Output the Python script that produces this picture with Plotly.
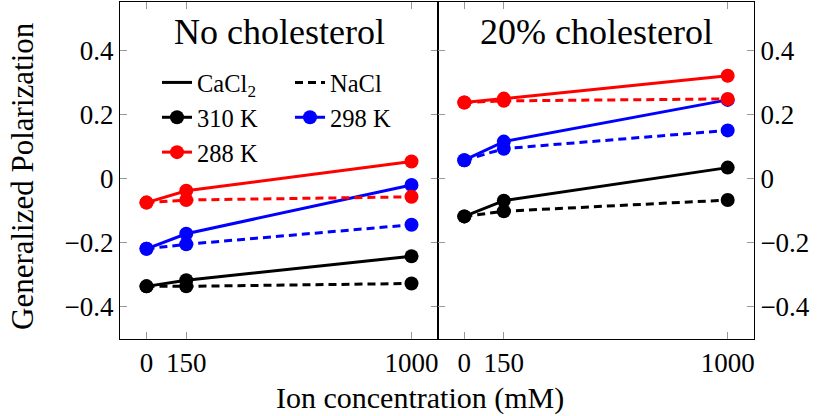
import plotly.graph_objects as go

conc = [0, 150, 1000]
panels = ["No cholesterol", "20% cholesterol"]
temps = ["310 K", "298 K", "288 K"]
colors = {"310 K": "black", "298 K": "blue", "288 K": "red"}

# Generalized polarization values [panel][salt][temp]
gp = {
    "No cholesterol": {
        "CaCl2": {"310 K": [-0.336, -0.317, -0.242],
                  "298 K": [-0.219, -0.172, -0.020],
                  "288 K": [-0.075, -0.038, 0.053]},
        "NaCl": {"310 K": [-0.336, -0.336, -0.327],
                 "298 K": [-0.219, -0.205, -0.144],
                 "288 K": [-0.075, -0.067, -0.057]},
    },
    "20% cholesterol": {
        "CaCl2": {"310 K": [-0.118, -0.069, 0.034],
                  "298 K": [0.057, 0.115, 0.245],
                  "288 K": [0.237, 0.249, 0.320]},
        "NaCl": {"310 K": [-0.118, -0.102, -0.067],
                 "298 K": [0.057, 0.093, 0.150],
                 "288 K": [0.237, 0.242, 0.248]},
    },
}

yticks = [-0.4, -0.2, 0, 0.2, 0.4]
yticktext = ["\u22120.4", "\u22120.2", "0", "0.2", "0.4"]

FONT = "Liberation Serif"
W, H = 827, 416
DASH = "8px,5px"

fig = go.Figure()
for pi, panel in enumerate(panels):
    xa = "x" if pi == 0 else "x2"
    ya = "y" if pi == 0 else "y2"
    for t in temps:
        for salt in ["CaCl2", "NaCl"]:
            fig.add_trace(go.Scatter(
                x=conc, y=gp[panel][salt][t], xaxis=xa, yaxis=ya,
                mode="lines+markers", showlegend=False,
                line=dict(color=colors[t], width=3,
                          dash="solid" if salt == "CaCl2" else DASH),
                marker=dict(color=colors[t], size=14),
                cliponaxis=False,
            ))

# legend entries
def leg(name, color, dash, marker, legend):
    fig.add_trace(go.Scatter(
        x=[None], y=[None], name=name, legend=legend,
        mode="lines+markers" if marker else "lines",
        line=dict(color=color, width=3, dash=dash),
        marker=dict(color=color, size=14),
    ))

leg("CaCl<sub>2</sub>", "black", "solid", False, "legend")
leg("310 K", "black", "solid", True, "legend")
leg("288 K", "red", "solid", True, "legend")
leg("NaCl", "black", DASH, False, "legend2")
leg("298 K", "blue", "solid", True, "legend2")

x0, xm, x1 = 120 / W, 438 / W, 754 / W
ydom = [(H - 339) / H, (H - 2) / H]

axcommon = dict(
    showgrid=False, zeroline=False, showline=True, linecolor="black",
    linewidth=1, mirror="ticks", ticks="inside", tickcolor="#999999",
    ticklen=7, tickwidth=1, automargin=False,
    tickfont=dict(family=FONT, size=27, color="black"),
)

fig.update_layout(
    width=W, height=H, margin=dict(l=0, r=0, t=0, b=0),
    plot_bgcolor="white", paper_bgcolor="white",
    font=dict(family=FONT, color="black"),
    xaxis=dict(domain=[x0, xm], range=[-100, 1100], tickvals=conc,
               anchor="y", **axcommon),
    xaxis2=dict(domain=[xm, x1], range=[-100, 1100], tickvals=conc,
                anchor="y2", **axcommon),
    yaxis=dict(domain=ydom, range=[-0.5, 0.55], tickvals=yticks,
               ticktext=yticktext, anchor="x", **axcommon),
    yaxis2=dict(domain=ydom, range=[-0.5, 0.55], tickvals=yticks,
                ticktext=yticktext, anchor="x2", side="right", **axcommon),
    legend=dict(x=157 / W, y=(H - 60) / H, xanchor="left", yanchor="top",
                bgcolor="rgba(0,0,0,0)", font=dict(family=FONT, size=24.5),
                tracegroupgap=0),
    legend2=dict(x=290 / W, y=(H - 60) / H, xanchor="left", yanchor="top",
                 bgcolor="rgba(0,0,0,0)", font=dict(family=FONT, size=24.5),
                 tracegroupgap=0),
    annotations=[
        dict(text=panels[0], x=(x0 + xm) / 2, y=(H - 32) / H, xref="paper",
             yref="paper", showarrow=False, xanchor="center", yanchor="middle",
             font=dict(family=FONT, size=36)),
        dict(text=panels[1], x=(xm + x1) / 2, y=(H - 32) / H, xref="paper",
             yref="paper", showarrow=False, xanchor="center", yanchor="middle",
             font=dict(family=FONT, size=36)),
        dict(text="Ion concentration (mM)", x=420 / W, y=(H - 398) / H,
             xref="paper", yref="paper", showarrow=False, xanchor="center",
             yanchor="middle", font=dict(family=FONT, size=30)),
        dict(text="Generalized Polarization", x=22 / W, y=(H - 176) / H,
             xref="paper", yref="paper", showarrow=False, xanchor="center",
             yanchor="middle", textangle=-90, font=dict(family=FONT, size=31)),
    ],
)

fig.write_html("out.html")
